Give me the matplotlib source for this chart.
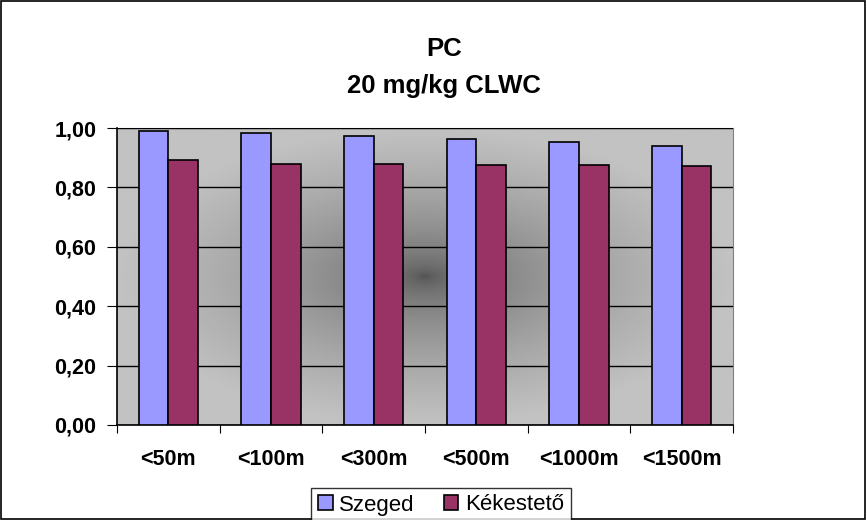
import numpy as np
import matplotlib.pyplot as plt
from matplotlib.patches import Rectangle

plt.rcParams['font.family'] = ['Liberation Sans', 'DejaVu Sans']

categories = ['<50m', '<100m', '<300m', '<500m', '<1000m', '<1500m']
szeged = [0.99, 0.983, 0.973, 0.963, 0.953, 0.94]
kekesteto = [0.892, 0.88, 0.88, 0.875, 0.875, 0.873]

W, H = 867, 520
fig = plt.figure(figsize=(W / 100, H / 100), dpi=100)
fig.patches.append(Rectangle((0.001, 0.001), 0.997, 0.997, transform=fig.transFigure,
                             fill=False, edgecolor='black', linewidth=1.2))
ax = fig.add_axes([117 / W, 1 - 425 / H, 616 / W, 297 / H])

# radial grey gradient background
gx, gy = np.meshgrid(np.linspace(-1, 1, 300), np.linspace(-1, 1, 200))
r = np.clip(np.sqrt(gx ** 2 + gy ** 2), 0, 1)
shade = 0.30 + (0.76 - 0.30) * np.sqrt(r)
ax.imshow(shade, cmap='gray', vmin=0, vmax=1, extent=[-0.5, 5.5, 0, 1],
          aspect='auto', zorder=0, interpolation='bilinear')

x = np.arange(len(categories))
w = 0.29
ax.bar(x - w / 2, szeged, w, color='#9999FF', edgecolor='black', linewidth=1.2,
       label='Szeged', zorder=3)
ax.bar(x + w / 2, kekesteto, w, color='#993366', edgecolor='black', linewidth=1.2,
       label='Kékestető', zorder=3)

ax.set_xlim(-0.5, 5.5)
ax.set_ylim(0, 1)
yt = np.arange(0, 1.01, 0.2)
ax.set_yticks(yt)
ax.set_yticklabels([f'{v:.2f}'.replace('.', ',') for v in yt],
                   fontsize=15.5, fontweight='bold')
ax.yaxis.grid(True, color='black', linewidth=1, zorder=1)
ax.set_axisbelow(False)
ax.set_xticks(np.arange(-0.5, 6, 1))
ax.set_xticklabels([])
ax.set_xticks(x, minor=True)
ax.set_xticklabels(categories, minor=True, fontsize=15.5, fontweight='bold')
ax.tick_params(axis='x', which='minor', length=0, pad=17)
ax.tick_params(axis='x', which='major', direction='out', length=6)
ax.tick_params(axis='y', direction='out', length=7, pad=8)
ax.spines['top'].set_color('#808080')
ax.spines['right'].set_color('#808080')
ax.spines['left'].set_linewidth(1.2)
ax.spines['bottom'].set_linewidth(1.2)

fig.text(444 / W, 1 - 49 / H, 'PC', ha='center', va='center',
         fontsize=18.5, fontweight='bold')
fig.text(444 / W, 1 - 86 / H, '20 mg/kg CLWC', ha='center', va='center',
         fontsize=18.5, fontweight='bold')

leg = fig.legend(loc='center', bbox_to_anchor=(441 / W, 1 - 505 / H), ncol=2,
                 fontsize=16, frameon=True, fancybox=False, edgecolor='black',
                 handlelength=0.65, handleheight=0.65, handletextpad=0.3,
                 columnspacing=1.3, borderpad=0.3)
leg.get_frame().set_linewidth(1)

fig.savefig('out.png', dpi=100)
